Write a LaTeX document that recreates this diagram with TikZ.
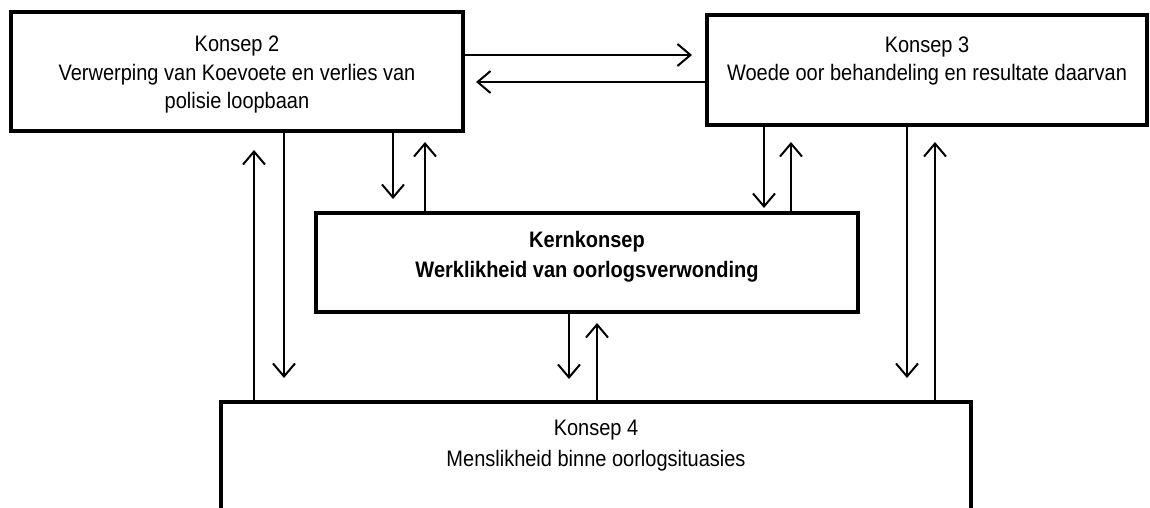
\documentclass[tikz,border=0pt]{standalone}
\usepackage{fontspec}
\setmainfont{Liberation Sans}
\usetikzlibrary{arrows.meta}
\newcommand{\tln}[1]{\scalebox{1}[1.12]{#1}}
\begin{document}
\begin{tikzpicture}[x=1pt,y=-1pt,
  box/.style={draw,line width=4pt,inner sep=0pt,outer sep=0pt},
  txt/.style={align=center,inner sep=0pt,font=\fontsize{20}{28.5}\selectfont},
  arr/.style={line width=2pt,-{Straight Barb[length=13pt,width=22pt,line width=2pt]}}]
\useasboundingbox (0,0) rectangle (1150,508);
\clip (0,0) rectangle (1150,508);
% boxes
\node[box,minimum width=452pt,minimum height=119pt] (b2) at (237,71.5) {};
\node[box,minimum width=440pt,minimum height=110pt] (b3) at (927,70) {};
\node[box,minimum width=542pt,minimum height=99pt] (bk) at (587,262.5) {};
\node[box,minimum width=750pt,minimum height=160pt] (b4) at (596,482) {};
% texts
\node[txt] (t2) at (237,75) {\tln{Konsep 2}\\\tln{Verwerping van Koevoete en verlies van}\\\tln{polisie loopbaan}};
\node[txt] (t3) at (927,61) {\tln{Konsep 3}\\\tln{Woede oor behandeling en resultate daarvan}};
\node[txt,font=\fontsize{20}{29.5}\selectfont\bfseries] (tk) at (587,257) {\tln{Kernkonsep}\\\tln{Werklikheid van oorlogsverwonding}};
\node[txt,font=\fontsize{20}{31}\selectfont] (t4) at (596,446) {\tln{Konsep 4}\\\tln{Menslikheid binne oorlogsituasies}};
% free ends
\coordinate (h1) at (692,55);
\coordinate (h2) at (476,82);
\coordinate (vA) at (284,378);
\coordinate (vB) at (254,150);
\coordinate (vC) at (393,199);
\coordinate (vD) at (425,142);
\coordinate (vE) at (764,208);
\coordinate (vF) at (791,142);
\coordinate (vG) at (907,378);
\coordinate (vH) at (935,142);
\coordinate (vI) at (569,379);
\coordinate (vJ) at (597,323);
% connectors
\draw[arr] (b2.east |- h1) -- (h1);
\draw[arr] (b3.west |- h2) -- (h2);
\draw[arr] (vA |- b2.south) -- (vA);
\draw[arr] (vB |- b4.north) -- (vB);
\draw[arr] (vC |- b2.south) -- (vC);
\draw[arr] (vD |- bk.north) -- (vD);
\draw[arr] (vE |- b3.south) -- (vE);
\draw[arr] (vF |- bk.north) -- (vF);
\draw[arr] (vG |- b3.south) -- (vG);
\draw[arr] (vH |- b4.north) -- (vH);
\draw[arr] (vI |- bk.south) -- (vI);
\draw[arr] (vJ |- b4.north) -- (vJ);
\end{tikzpicture}
\end{document}
